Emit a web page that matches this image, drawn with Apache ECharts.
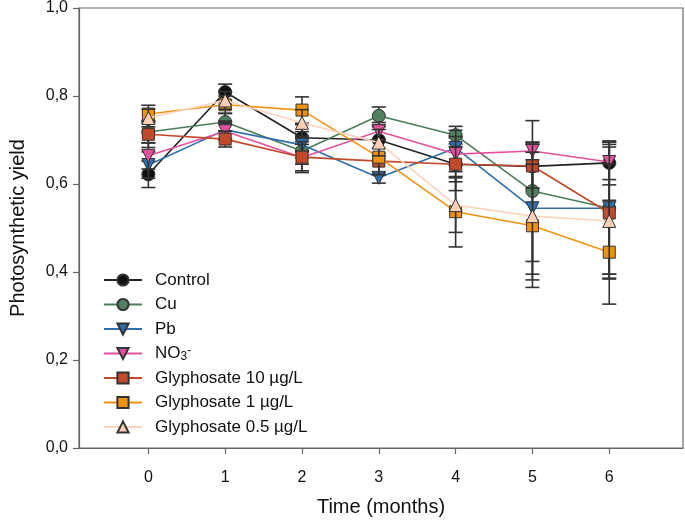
<!DOCTYPE html>
<html>
<head>
<meta charset="utf-8">
<script src="https://cdn.jsdelivr.net/npm/echarts@6/dist/echarts.min.js"></script>
<style>html,body{margin:0;padding:0;background:#fff}#c{width:685px;height:525px}</style>
</head>
<body>
<div id="c"></div>
<script>
const months = [0, 1, 2, 3, 4, 5, 6];
const yTicks = [0, 0.2, 0.4, 0.6, 0.8, 1.0];

const seriesNames = ['Control', 'Cu', 'Pb', 'NO3-', 'Glyphosate 10 µg/L', 'Glyphosate 1 µg/L', 'Glyphosate 0.5 µg/L'];

const control = [0.622, 0.809, 0.705, 0.700, 0.645, 0.640, 0.648];
const controlErr = [0.030, 0.018, 0.030, 0.030, 0.060, 0.050, 0.050];
const cu = [0.718, 0.741, 0.675, 0.755, 0.711, 0.584, 0.545];
const cuErr = [0.025, 0.020, 0.030, 0.020, 0.020, 0.160, 0.150];
const pb = [0.643, 0.723, 0.689, 0.614, 0.682, 0.545, 0.545];
const pbErr = [0.030, 0.020, 0.030, 0.012, 0.040, 0.150, 0.150];
const no3 = [0.664, 0.720, 0.660, 0.720, 0.668, 0.675, 0.650];
const no3Err = [0.030, 0.020, 0.030, 0.020, 0.040, 0.020, 0.040];
const gly10 = [0.713, 0.702, 0.661, 0.652, 0.645, 0.641, 0.534];
const gly10Err = [0.030, 0.018, 0.035, 0.030, 0.040, 0.050, 0.150];
const gly1 = [0.759, 0.780, 0.768, 0.661, 0.537, 0.505, 0.445];
const gly1Err = [0.020, 0.020, 0.030, 0.040, 0.080, 0.140, 0.118];
const gly05 = [0.750, 0.790, 0.739, 0.694, 0.552, 0.527, 0.516];
const gly05Err = [0.020, 0.020, 0.030, 0.030, 0.062, 0.145, 0.130];

const values = [control, cu, pb, no3, gly10, gly1, gly05];
const errors = [controlErr, cuErr, pbErr, no3Err, gly10Err, gly1Err, gly05Err];
const fillColors = ['#111111', '#4f8060', '#2f6fad', '#e4509c', '#c24a2a', '#f2930f', '#fccfb6'];
const lineColors = ['#222222', '#4a7d5a', '#2f6fad', '#e4509c', '#c24a2a', '#f2930f', '#fdd3bd'];
const symbols = ['circle', 'circle', 'triangle', 'triangle', 'rect', 'rect', 'triangle'];
const rotations = [0, 0, 180, 180, 0, 0, 0];
const sizes = [13, 13, 13, 13, 12, 12, 13];

const FONT = '"Liberation Sans", Arial, sans-serif';

const series = [];
values.forEach((vals, i) => {
  const errs = errors[i];
  series.push({
    type: 'custom',
    name: seriesNames[i] + '_err',
    z: 2 + i * 2,
    silent: true,
    data: months.map((m, k) => [m, vals[k] - errs[k], vals[k] + errs[k]]),
    renderItem: function (params, api) {
      const x = api.value(0);
      const lo = api.coord([x, api.value(1)]);
      const hi = api.coord([x, api.value(2)]);
      const hw = 7;
      const st = { stroke: '#333333', lineWidth: 1.6 };
      return {
        type: 'group',
        children: [
          { type: 'line', shape: { x1: lo[0], y1: lo[1], x2: hi[0], y2: hi[1] }, style: st },
          { type: 'line', shape: { x1: lo[0] - hw, y1: lo[1], x2: lo[0] + hw, y2: lo[1] }, style: st },
          { type: 'line', shape: { x1: hi[0] - hw, y1: hi[1], x2: hi[0] + hw, y2: hi[1] }, style: st }
        ]
      };
    }
  });
  series.push({
    type: 'line',
    name: seriesNames[i],
    z: 3 + i * 2,
    data: months.map((m, k) => [m, vals[k]]),
    symbol: symbols[i],
    symbolRotate: rotations[i],
    symbolSize: sizes[i],
    showAllSymbol: true,
    lineStyle: { color: lineColors[i], width: 1.6 },
    itemStyle: { color: fillColors[i], borderColor: '#333333', borderWidth: 1 },
    emphasis: { disabled: true },
    animation: false
  });
});

const chart = echarts.init(document.getElementById('c'), null, { renderer: 'canvas' });
chart.setOption({
  animation: false,
  backgroundColor: '#ffffff',
  grid: { left: 74, top: 8, right: 2, bottom: 77, show: true, borderColor: '#666666', borderWidth: 1.2, backgroundColor: 'transparent' },
  legend: {
    orient: 'vertical',
    left: 98,
    top: 266,
    itemWidth: 38,
    itemHeight: 14,
    itemGap: 6.5,
    data: seriesNames,
    formatter: function (name) { return name === 'NO3-' ? 'NO{sub|3}{sup|-}' : name; },
    textStyle: {
      fontFamily: FONT, fontSize: 17, color: '#111', padding: [0, 0, 0, 8], lineHeight: 18,
      rich: {
        sub: { fontFamily: FONT, fontSize: 12, color: '#111', lineHeight: 18, verticalAlign: 'bottom' },
        sup: { fontFamily: FONT, fontSize: 12, color: '#111', lineHeight: 18, verticalAlign: 'top' }
      }
    }
  },
  xAxis: {
    type: 'value',
    min: -0.903,
    max: 6.96,
    name: 'Time (months)',
    nameLocation: 'middle',
    nameGap: 49,
    nameTextStyle: { fontFamily: FONT, fontSize: 20, color: '#111' },
    axisLine: { show: true, onZero: false, lineStyle: { color: '#666666', width: 1.2 } },
    axisTick: { show: true, length: 6, customValues: months, lineStyle: { color: '#666666', width: 1.2 } },
    axisLabel: { customValues: months, margin: 22, fontFamily: FONT, fontSize: 16, color: '#111' },
    splitLine: { show: false }
  },
  yAxis: {
    type: 'value',
    min: 0,
    max: 1,
    interval: 0.2,
    name: 'Photosynthetic yield',
    nameLocation: 'middle',
    nameGap: 51,
    nameTextStyle: { fontFamily: FONT, fontSize: 20, color: '#111' },
    axisLine: { show: true, onZero: false, lineStyle: { color: '#666666', width: 1.2 } },
    axisTick: { show: true, length: 6, lineStyle: { color: '#666666', width: 1.2 } },
    axisLabel: {
      margin: 11, fontFamily: FONT, fontSize: 16, color: '#111',
      formatter: function (v) { return v.toFixed(1).replace('.', ','); }
    },
    splitLine: { show: false }
  },
  series: series
});
</script>
</body>
</html>
